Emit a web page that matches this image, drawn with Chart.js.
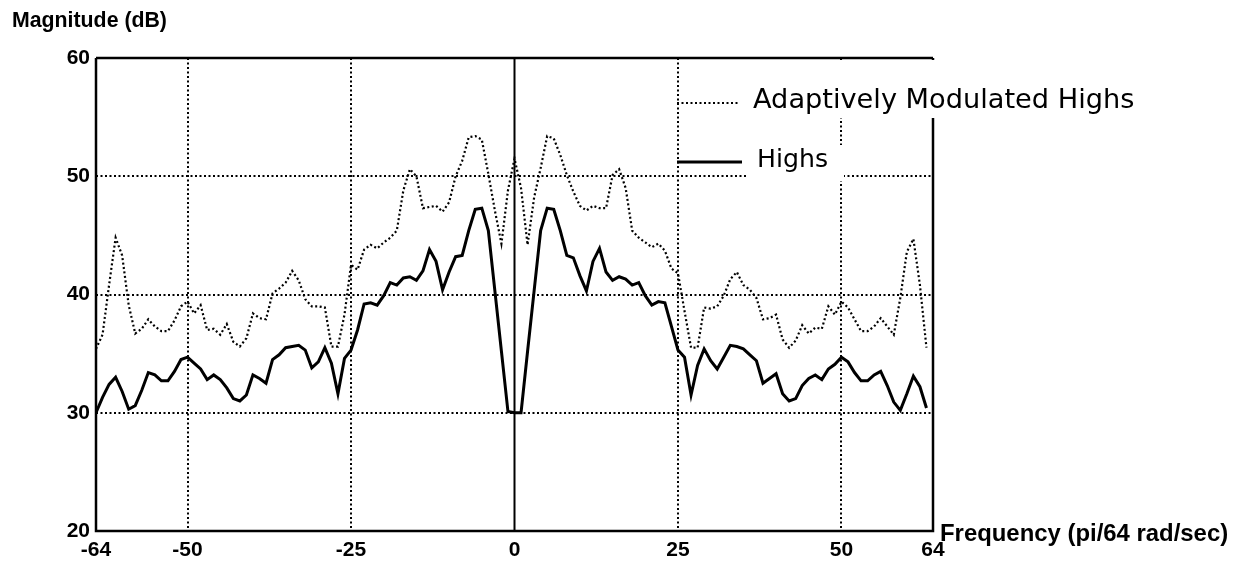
<!DOCTYPE html>
<html>
<head>
<meta charset="utf-8">
<title>Magnitude (dB)</title>
<script src="https://cdn.jsdelivr.net/npm/chart.js@4.4.1/dist/chart.umd.min.js"></script>
<style>
  html, body { margin: 0; padding: 0; background: #fff; }
  #wrap { position: relative; width: 1237px; height: 563px; }
</style>
</head>
<body>
<div id="wrap"><canvas id="spectrum" width="1237" height="563"></canvas></div>
<script>
// frequency bins, pi/64 rad/sec
const freqs = [
  -64, -63, -62, -61, -60, -59, -58, -57, -56, -55, -54, -53, -52, -51, -50, -49,
  -48, -47, -46, -45, -44, -43, -42, -41, -40, -39, -38, -37, -36, -35, -34, -33,
  -32, -31, -30, -29, -28, -27, -26, -25, -24, -23, -22, -21, -20, -19, -18, -17,
  -16, -15, -14, -13, -12, -11, -10, -9, -8, -7, -6, -5, -4, -3, -2, -1,
  0, 1, 2, 3, 4, 5, 6, 7, 8, 9, 10, 11, 12, 13, 14, 15,
  16, 17, 18, 19, 20, 21, 22, 23, 24, 25, 26, 27, 28, 29, 30, 31,
  32, 33, 34, 35, 36, 37, 38, 39, 40, 41, 42, 43, 44, 45, 46, 47,
  48, 49, 50, 51, 52, 53, 54, 55, 56, 57, 58, 59, 60, 61, 62, 63
];

// magnitude in dB
const highs = [
  30.0, 31.3, 32.4, 33.0, 31.8, 30.3, 30.6, 31.9, 33.4, 33.2,
  32.7, 32.7, 33.5, 34.5, 34.7, 34.2, 33.7, 32.8, 33.2, 32.8,
  32.1, 31.2, 31.0, 31.5, 33.2, 32.9, 32.5, 34.5, 34.9, 35.5,
  35.6, 35.7, 35.3, 33.8, 34.3, 35.5, 34.2, 31.6, 34.6, 35.3,
  37.0, 39.2, 39.3, 39.1, 39.9, 41.0, 40.8, 41.4, 41.5, 41.2,
  42.0, 43.8, 42.8, 40.4, 41.9, 43.2, 43.3, 45.4, 47.2, 47.3,
  45.4, 40.3, 35.2, 30.1, 30.0, 30.0, 35.2, 40.3, 45.4, 47.3,
  47.2, 45.4, 43.3, 43.1, 41.6, 40.3, 42.8, 43.9, 41.9, 41.2,
  41.5, 41.3, 40.8, 41.0, 39.9, 39.1, 39.4, 39.3, 37.3, 35.3,
  34.7, 31.5, 34.0, 35.4, 34.4, 33.7, 34.7, 35.7, 35.6, 35.4,
  34.9, 34.4, 32.5, 32.9, 33.3, 31.6, 31.0, 31.2, 32.3, 32.9,
  33.2, 32.8, 33.7, 34.1, 34.7, 34.3, 33.4, 32.7, 32.7, 33.2,
  33.5, 32.3, 30.9, 30.2, 31.6, 33.1, 32.2, 30.4
];

const adaptiveHighs = [
  35.4, 36.6, 40.8, 44.8, 43.3, 39.1, 36.7, 37.1, 37.9, 37.3,
  36.9, 36.9, 37.8, 39.0, 39.4, 38.4, 39.1, 37.0, 37.1, 36.6,
  37.5, 36.0, 35.6, 36.3, 38.4, 38.0, 37.9, 40.1, 40.5, 41.0,
  42.0, 41.2, 39.6, 39.0, 39.0, 38.9, 35.6, 35.6, 38.3, 42.5,
  42.1, 43.8, 44.2, 43.9, 44.4, 44.8, 45.4, 48.8, 50.6, 50.0,
  47.3, 47.4, 47.5, 47.0, 47.8, 50.0, 51.3, 53.3, 53.4, 53.1,
  50.2, 47.1, 44.3, 48.8, 51.5, 49.0, 44.2, 48.2, 50.7, 53.4,
  53.2, 51.8, 50.1, 48.7, 47.5, 47.1, 47.5, 47.3, 47.3, 50.1,
  50.6, 49.0, 45.4, 44.8, 44.4, 44.0, 44.3, 43.7, 42.2, 41.8,
  38.6, 35.5, 35.5, 38.9, 38.8, 39.0, 39.9, 41.3, 41.9, 40.8,
  40.4, 39.7, 37.9, 38.0, 38.3, 36.2, 35.5, 36.1, 37.4, 36.7,
  37.2, 37.1, 39.0, 38.3, 39.4, 38.9, 37.9, 36.9, 36.9, 37.3,
  38.0, 37.3, 36.6, 39.7, 43.6, 44.7, 40.8, 35.5
];

const freqTicks = [-64, -50, -25, 0, 25, 50, 64];
const magTicks = [20, 30, 40, 50, 60];
const seriesNames = ["Adaptively Modulated Highs", "Highs"];

const DOTS = [2, 2.5];
const GRID_DOTS = [2, 2.5];
const TICK_FONT = { family: "'Liberation Sans', Arial, sans-serif", size: 21, weight: "bold" };

function points(values){
  return freqs.map((f, i) => ({ x: f, y: values[i] }));
}

// shrink/grow a font so the text spans the given width
function fitFont(ctx, text, width, weight, family){
  ctx.font = `${weight} 100px ${family}`;
  const size = 100 * width / ctx.measureText(text).width;
  return `${weight} ${size.toFixed(1)}px ${family}`;
}

// solid frame and zero line, drawn over the dotted grid
const framePlugin = {
  id: "frame",
  beforeDatasetsDraw(chart){
    const { ctx, chartArea: a, scales } = chart;
    const x0 = scales.x.getPixelForValue(0);
    ctx.save();
    ctx.strokeStyle = "#000";
    ctx.lineWidth = 2.5;
    ctx.beginPath();
    ctx.moveTo(a.left, a.top); ctx.lineTo(a.right, a.top);
    ctx.moveTo(a.left, a.top); ctx.lineTo(a.left, a.bottom);
    ctx.lineTo(a.right, a.bottom); ctx.lineTo(a.right, a.top);
    ctx.stroke();
    ctx.lineWidth = 2;
    ctx.beginPath();
    ctx.moveTo(x0, a.top); ctx.lineTo(x0, a.bottom);
    ctx.stroke();
    ctx.restore();
  }
};

// legend entries sit on white boxes cut out of the grid
const legendPlugin = {
  id: "keyBoxes",
  afterDatasetsDraw(chart){
    const { ctx, chartArea: a } = chart;
    const family = "'DejaVu Sans', sans-serif";
    ctx.save();
    ctx.fillStyle = "#fff";
    ctx.fillRect(742, a.top + 2, 410, 118 - a.top - 2);
    ctx.fillRect(748, 145, 96, 36);

    ctx.strokeStyle = "#000";
    ctx.lineWidth = 2;
    ctx.setLineDash(DOTS);
    ctx.beginPath(); ctx.moveTo(677, 103); ctx.lineTo(740, 103); ctx.stroke();
    ctx.setLineDash([]);
    ctx.lineWidth = 3;
    ctx.beginPath(); ctx.moveTo(677, 162); ctx.lineTo(742, 162); ctx.stroke();

    ctx.fillStyle = "#000";
    ctx.textBaseline = "middle";
    ctx.font = fitFont(ctx, seriesNames[0], 382, "normal", family);
    ctx.fillText(seriesNames[0], 753, 101);
    ctx.font = fitFont(ctx, seriesNames[1], 71, "normal", family);
    ctx.fillText(seriesNames[1], 757, 160);
    ctx.restore();
  },
  afterDraw(chart){
    const { ctx, chartArea: a } = chart;
    const family = "'Liberation Sans', Arial, sans-serif";
    ctx.save();
    ctx.fillStyle = "#000";
    ctx.textBaseline = "middle";
    ctx.font = fitFont(ctx, "Magnitude (dB)", 155, "bold", family);
    ctx.fillText("Magnitude (dB)", 12, 21);
    ctx.font = fitFont(ctx, "Frequency (pi/64 rad/sec)", 288, "bold", family);
    ctx.fillText("Frequency (pi/64 rad/sec)", a.right + 7, a.bottom + 3);
    ctx.restore();
  }
};

function renderChart(){
  const ctx = document.getElementById("spectrum").getContext("2d");
  const gridColor = edge => c => (edge.includes(c.tick.value) ? "rgba(0,0,0,0)" : "#000");

  new Chart(ctx, {
    type: "line",
    data: {
      datasets: [
        { label: seriesNames[0], data: points(adaptiveHighs), borderColor: "#000",
          borderWidth: 2.2, borderDash: DOTS, pointRadius: 0, tension: 0, fill: false },
        { label: seriesNames[1], data: points(highs), borderColor: "#000",
          borderWidth: 3, pointRadius: 0, tension: 0, fill: false }
      ]
    },
    options: {
      responsive: false,
      animation: false,
      devicePixelRatio: 1,
      layout: { padding: { left: 0, top: 58, right: 304, bottom: 0 } },
      plugins: { legend: { display: false }, tooltip: { enabled: false } },
      scales: {
        x: {
          type: "linear", min: -64, max: 64,
          afterBuildTicks: s => { s.ticks = freqTicks.map(v => ({ value: v })); },
          afterFit: s => { s.height = 32; },
          ticks: { autoSkip: false, maxRotation: 0, padding: 7, color: "#000", font: TICK_FONT,
                   callback: v => String(v) },
          grid: { color: gridColor([-64, 0, 64]), lineWidth: 2, drawTicks: false },
          border: { display: false, dash: GRID_DOTS }
        },
        y: {
          min: 20, max: 60,
          afterBuildTicks: s => { s.ticks = magTicks.map(v => ({ value: v })); },
          afterFit: s => { s.width = 96; },
          ticks: { padding: 6, color: "#000", font: TICK_FONT, callback: v => String(v) },
          grid: { color: gridColor([20, 60]), lineWidth: 2, drawTicks: false },
          border: { display: false, dash: GRID_DOTS }
        }
      }
    },
    plugins: [framePlugin, legendPlugin]
  });
}

renderChart();
</script>
</body>
</html>
